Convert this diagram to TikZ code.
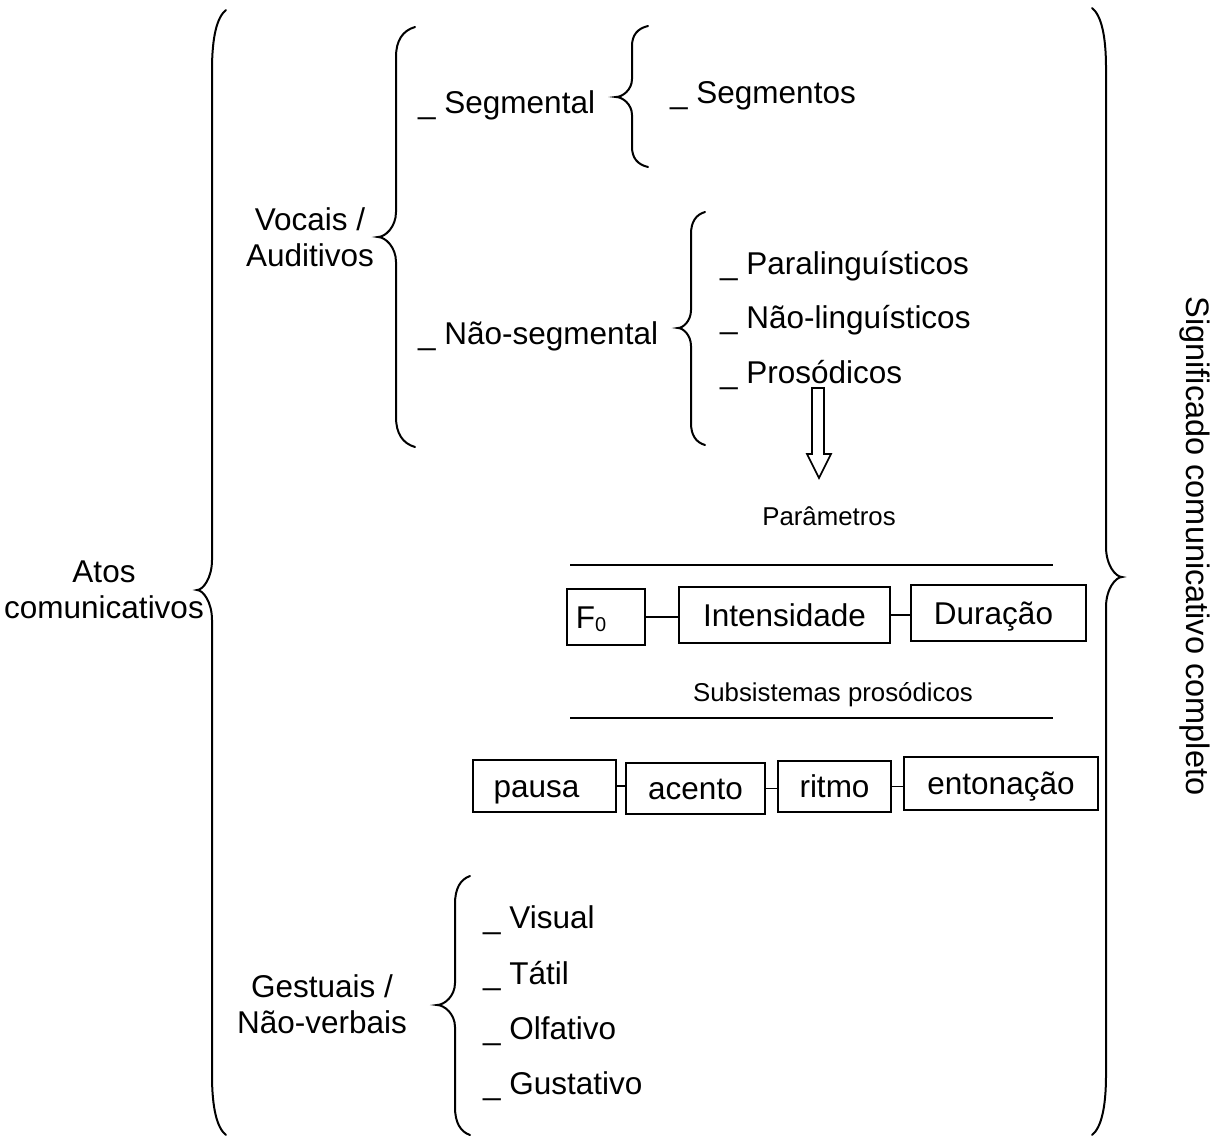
\documentclass[tikz,border=0pt]{standalone}
\usepackage{fontspec}
\setmainfont{Liberation Sans}
\newcommand\bigfont{\fontsize{31.5pt}{36pt}\selectfont}
\newcommand\smallfont{\fontsize{25.8pt}{30pt}\selectfont}
\newcommand\padR[1]{\rule{#1}{0pt}}
% xend xline xtip ytop ymid ybot rEnd rMid
\newcommand\drawbrace[8]{%
  \draw[bracestyle] (#1,#4) .. controls ({#2+0.35*(#1-#2)},{#4+0.12*#7}) and (#2,{#4+0.45*#7}) .. (#2,{#4+#7})
    -- (#2,{#5-#8}) .. controls (#2,{#5-0.4*#8}) and ({#3+0.4*(#2-#3)},#5) .. (#3,#5)
    .. controls ({#3+0.4*(#2-#3)},#5) and (#2,{#5+0.4*#8}) .. (#2,{#5+#8})
    -- (#2,{#6-#7}) .. controls (#2,{#6-0.45*#7}) and ({#2+0.35*(#1-#2)},{#6-0.12*#7}) .. (#1,#6);}
\tikzset{
  bracestyle/.style={line width=2pt, line cap=round},
  lbl/.style={inner sep=0pt, font=\bigfont},
  item/.style={inner sep=0pt, anchor=base west, font=\bigfont},
  slbl/.style={inner sep=0pt, font=\smallfont},
  boxnode/.style={draw, line width=1.6pt, inner sep=0pt, font=\bigfont, text height=22.6pt, text depth=0pt},
  link/.style={line width=1.6pt},
  rule/.style={line width=1.6pt},
}
\begin{document}
\begin{tikzpicture}[x=1pt,y=-1pt]
\useasboundingbox (0,0) rectangle (1218,1138);

% braces
\drawbrace{226}{212}{197}{10}{590}{1135}{60}{30}
\drawbrace{415}{396}{378}{27}{237}{447}{30}{25}
\drawbrace{648}{632}{616}{26}{97}{167}{20}{18}
\drawbrace{705}{691}{678}{212}{328}{445}{22}{18}
\drawbrace{470}{455}{437}{876}{1005}{1135}{28}{22}
\drawbrace{1092}{1106}{1122}{8}{577}{1135}{60}{30}

% labels
\node[lbl, align=center] (atos) at (104,590) {Atos\\comunicativos};
\node[lbl, align=center] (vocais) at (310,237) {Vocais /\\Auditivos};
\node[lbl, align=center] (gestuais) at (322,1004) {Gestuais /\\Não-verbais};
\node[inner sep=0pt, font=\fontsize{32.5pt}{36pt}\selectfont, rotate=-90] (signif) at (1195,546) {Significado comunicativo completo};

\node[item] (segmental) at (418,113) {\_ Segmental};
\node[item] (naoseg) at (418,344) {\_ Não-segmental};
\node[item] (segmentos) at (670,103) {\_ Segmentos};
\node[item] (paraling) at (720,274) {\_ Paralinguísticos};
\node[item] (naoling) at (720,328) {\_ Não-linguísticos};
\node[item] (prosod) at (720,383) {\_ Prosódicos};

\node[item] (visual) at (483,928) {\_ Visual};
\node[item] (tatil) at (483,984) {\_ Tátil};
\node[item] (olfat) at (483,1039) {\_ Olfativo};
\node[item] (gustat) at (483,1094) {\_ Gustativo};

% hollow arrow
\draw[line width=1.6pt, line join=miter] (812,388) -- (824,388) -- (824,454) -- (831,454) -- (819,478) -- (807,454) -- (812,454) -- cycle;

\node[slbl] (param) at (829,516) {Parâmetros};
\draw[rule] (570,565) -- (1053,565);
\node[slbl] (subsis) at (833,695) {Subsistemas prosódicos};
\draw[rule] (570,718) -- (1053,718);

% parameter boxes
\node[boxnode, minimum width=78pt, minimum height=56pt] (f0) at (606,617) {F{\fontsize{20pt}{20pt}\selectfont\raisebox{-3pt}{0}}\padR{30pt}};
\node[boxnode, minimum width=211pt, minimum height=56pt] (intens) at (784.5,615) {Intensidade};
\node[boxnode, minimum width=175pt, minimum height=56pt] (durac) at (998.5,613) {Duração\padR{10pt}};
\draw[link] (f0.east) -- (f0.east -| intens.west);
\draw[link] (intens.east) -- (intens.east -| durac.west);

% subsystem boxes
\node[boxnode, minimum width=143pt, minimum height=52pt] (pausa) at (544.5,786) {pausa\padR{16pt}};
\node[boxnode, minimum width=139pt, minimum height=51pt] (acento) at (695.5,788.5) {acento};
\node[boxnode, minimum width=113pt, minimum height=51pt] (ritmo) at (834.5,786.5) {ritmo};
\node[boxnode, minimum width=194pt, minimum height=53pt] (enton) at (1001,783.5) {entonação};
\draw[link] (pausa.east) -- (pausa.east -| acento.west);
\draw[link] (acento.east) -- (acento.east -| ritmo.west);
\draw[link] (ritmo.east) -- (ritmo.east -| enton.west);
\end{tikzpicture}
\end{document}
